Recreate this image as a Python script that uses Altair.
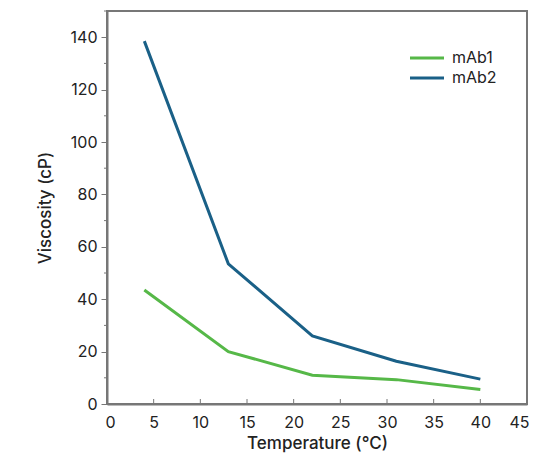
import altair as alt
import pandas as pd

temps = [4, 13, 22, 31, 40]
mab1 = [43.5, 20.0, 11.0, 9.3, 5.5]
mab2 = [138.5, 53.5, 26.0, 16.3, 9.5]
series_names = ["mAb1", "mAb2"]
colors = ["#56b848", "#1a6087"]
x_ticks = [0, 5, 10, 15, 20, 25, 30, 35, 40, 45]
y_ticks = [0, 20, 40, 60, 80, 100, 120, 140]
y_minor = [10, 30, 50, 70, 90, 110, 130, 150]
x_inner = [5, 10, 15, 20, 25, 30, 35, 40]

rows = []
for t, a, b in zip(temps, mab1, mab2):
    rows.append({"Temperature": t, "Viscosity": a, "Series": "mAb1"})
    rows.append({"Temperature": t, "Viscosity": b, "Series": "mAb2"})
df = pd.DataFrame(rows)

FONT = "Inter"
GRAY = "#777777"
W, H = 420, 393

xscale = alt.Scale(domain=[0, 45], nice=False)
yscale = alt.Scale(domain=[0, 150], nice=False)

lines = alt.Chart(df).mark_line(strokeWidth=3).encode(
    x=alt.X("Temperature:Q", scale=xscale,
            axis=alt.Axis(values=x_ticks, title="Temperature (°C)", ticks=False,
                          labelFlush=True, labelFlushOffset=2,
                          labelPadding=10, titlePadding=5)),
    y=alt.Y("Viscosity:Q", scale=yscale,
            axis=alt.Axis(values=y_ticks, title="Viscosity (cP)", tickSize=6,
                          labelFlush=False, labelPadding=4, titlePadding=16)),
    color=alt.Color("Series:N",
                    scale=alt.Scale(domain=series_names, range=colors),
                    legend=alt.Legend(title=None, orient="none", legendX=310, legendY=37,
                                      symbolType="M-2,0L2,0", symbolStrokeWidth=3,
                                      symbolSize=289, labelFontSize=16, labelFont=FONT,
                                      labelColor="#222222", rowPadding=2, labelOffset=15,
                                      padding=0)),
)

minor = alt.Chart(pd.DataFrame({"v": y_minor})).mark_rule(color=GRAY, strokeWidth=1, clip=False).encode(
    y=alt.Y("v:Q", scale=yscale),
    x=alt.value(-3), x2=alt.value(0),
)

inner = alt.Chart(pd.DataFrame({"t": x_inner})).mark_rule(color=GRAY, strokeWidth=1).encode(
    x=alt.X("t:Q", scale=xscale),
    y=alt.value(H - 5), y2=alt.value(H),
)

chart = alt.layer(lines, minor, inner).properties(
    width=W, height=H,
    autosize=alt.AutoSizeParams(type="none"),
    padding={"left": 99, "top": 3, "right": 2, "bottom": 52},
).configure_view(
    stroke=GRAY, strokeWidth=2
).configure_axis(
    domainColor=GRAY, domainWidth=2, tickColor=GRAY, grid=False,
    labelFont=FONT, labelFontSize=16, labelColor="#222222",
    titleFont=FONT, titleFontSize=17, titleFontWeight=500, titleColor="#222222",
)

chart.save("out.html", embed_options={"renderer": "svg", "actions": False})
